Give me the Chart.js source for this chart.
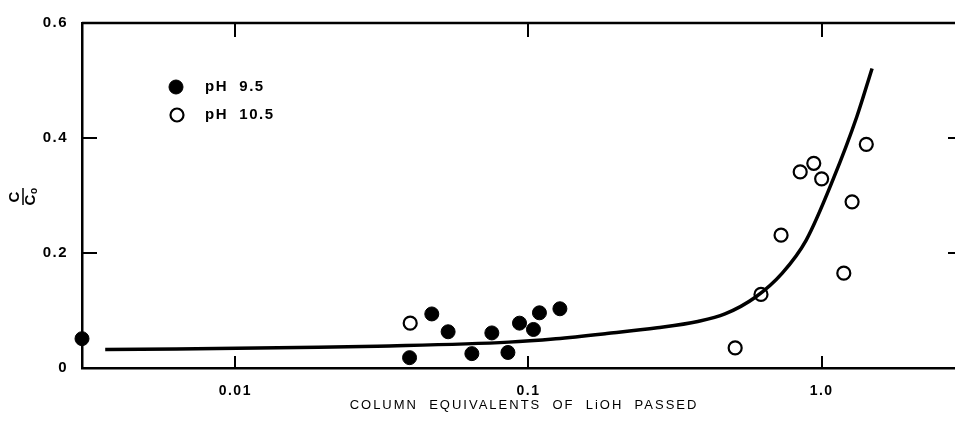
<!DOCTYPE html>
<html>
<head>
<meta charset="utf-8">
<script src="https://cdn.jsdelivr.net/npm/chart.js@4.4.1/dist/chart.umd.min.js"></script>
<style>
  body { margin: 0; background: #fff; }
  #wrap { width: 955px; height: 425px; }
</style>
</head>
<body>
<div id="wrap"><canvas id="cc"></canvas></div>
<script>
// pH 9.5 (filled circles)
const ph95X = [0.003, 0.0393, 0.0468, 0.0532, 0.0641, 0.075, 0.0851, 0.0932, 0.104, 0.109, 0.128];
const ph95Y = [0.051, 0.018, 0.094, 0.063, 0.025, 0.061, 0.027, 0.078, 0.067, 0.096, 0.103];
// pH 10.5 (open circles)
const ph105X = [0.0395, 0.507, 0.621, 0.727, 0.845, 0.94, 1.0, 1.19, 1.27, 1.42];
const ph105Y = [0.078, 0.035, 0.128, 0.231, 0.341, 0.356, 0.329, 0.165, 0.289, 0.389];
// fitted curve
const curveX = [0.0036, 0.0192, 0.0305, 0.0857, 0.124, 0.185, 0.275, 0.378, 0.468, 0.594, 0.734, 0.885, 1.094, 1.318, 1.486];
const curveY = [0.032, 0.036, 0.038, 0.045, 0.051, 0.060, 0.070, 0.081, 0.094, 0.123, 0.165, 0.222, 0.328, 0.437, 0.521];
const xTicks = [0.01, 0.1, 1];
const xTickLabels = ["0.01", "0.1", "1.0"];
const yTicks = [0, 0.2, 0.4, 0.6];
const yTickLabels = ["0", "0.2", "0.4", "0.6"];
const xTitle = "COLUMN  EQUIVALENTS  OF  LiOH  PASSED";

const pts = (xs, ys) => xs.map((x, i) => ({ x: x, y: ys[i] }));
const FONT = "'Liberation Sans', Arial, sans-serif";

// frame top line, inward tick marks, legend, axis titles
const extras = {
  id: "extras",
  beforeDraw(chart) {
    chart.ctx.letterSpacing = "1.5px";
  },
  afterDraw(chart) {
    const c = chart.ctx, a = chart.chartArea;
    const sx = chart.scales.x, sy = chart.scales.y;
    c.save();
    c.strokeStyle = "#000";
    c.lineWidth = 2.5;
    c.beginPath();
    c.moveTo(a.left, a.top);
    c.lineTo(a.right, a.top);
    c.stroke();
    c.lineWidth = 2;
    c.beginPath();
    xTicks.forEach(v => {
      const px = Math.round(sx.getPixelForValue(v));
      c.moveTo(px, a.bottom); c.lineTo(px, a.bottom - 12);
      c.moveTo(px, a.top); c.lineTo(px, a.top + 14);
    });
    [0.2, 0.4].forEach(v => {
      const py = Math.round(sy.getPixelForValue(v));
      c.moveTo(a.left, py); c.lineTo(a.left + 15, py);
      c.moveTo(a.right, py); c.lineTo(a.right - 7, py);
    });
    c.stroke();

    // legend
    const ds = chart.data.datasets;
    const rows = [[ds[1], 176, 87], [ds[2], 177, 115]];
    rows.forEach(([d, cx, cy]) => {
      c.beginPath();
      c.arc(cx, cy, d.pointRadius, 0, Math.PI * 2);
      c.fillStyle = d.pointBackgroundColor;
      c.fill();
      c.lineWidth = d.pointBorderWidth;
      c.strokeStyle = "#000";
      c.stroke();
      c.fillStyle = "#000";
      c.font = "bold 15px " + FONT;
      c.textBaseline = "middle";
      c.textAlign = "left";
      c.fillText(d.label, 205, cy);
    });

    // x title
    c.letterSpacing = "2px";
    c.font = "13px " + FONT;
    c.textAlign = "center";
    c.textBaseline = "middle";
    c.fillText(xTitle, 524, 405);

    // y title C / C0 as a rotated fraction
    c.letterSpacing = "0px";
    c.translate(23, 197);
    c.rotate(-Math.PI / 2);
    c.font = "bold 15px " + FONT;
    c.fillText("C", 0, -8);
    c.lineWidth = 1.5;
    c.beginPath();
    c.moveTo(-8, 0); c.lineTo(9, 0);
    c.stroke();
    c.fillText("C", -3, 8);
    c.font = "bold 10px " + FONT;
    c.fillText("o", 6, 11);
    c.restore();
  }
};

new Chart(document.getElementById("cc"), {
  type: "scatter",
  data: {
    datasets: [
      {
        type: "line",
        label: "curve",
        data: pts(curveX, curveY),
        borderColor: "#000",
        borderWidth: 3.5,
        pointRadius: 0,
        fill: false,
        cubicInterpolationMode: "monotone",
      },
      {
        label: "pH  9.5",
        data: pts(ph95X, ph95Y),
        pointRadius: 7,
        pointBackgroundColor: "#000",
        pointBorderColor: "#000",
        pointBorderWidth: 1,
        clip: false,
      },
      {
        label: "pH  10.5",
        data: pts(ph105X, ph105Y),
        pointRadius: 6.5,
        pointBackgroundColor: "#fff",
        pointBorderColor: "#000",
        pointBorderWidth: 2.2,
        clip: false,
      },
    ],
  },
  options: {
    responsive: true,
    maintainAspectRatio: false,
    animation: false,
    layout: { autoPadding: false, padding: { top: 18, right: 0, left: 0, bottom: 0 } },
    plugins: { legend: { display: false }, tooltip: { enabled: false } },
    scales: {
      x: {
        type: "logarithmic",
        min: 0.003,
        max: 2.85,
        afterBuildTicks: s => { s.ticks = xTicks.map(v => ({ value: v })); },
        afterFit: s => { s.height = 57; },
        ticks: {
          autoSkip: false,
          maxRotation: 0,
          padding: 15,
          color: "#000",
          font: { family: FONT, size: 14, weight: "bold" },
          callback: v => xTickLabels[xTicks.indexOf(v)],
        },
        grid: { display: false, drawTicks: false },
        border: { display: true, color: "#000", width: 2.5 },
      },
      y: {
        min: 0,
        max: 0.6,
        afterBuildTicks: s => { s.ticks = yTicks.map(v => ({ value: v })); },
        afterFit: s => { s.width = 82; },
        ticks: {
          padding: 14,
          color: "#000",
          font: { family: FONT, size: 15, weight: "bold" },
          callback: v => yTickLabels[yTicks.indexOf(v)],
        },
        grid: { display: false, drawTicks: false },
        border: { display: true, color: "#000", width: 2.5 },
      },
    },
  },
  plugins: [extras],
});
</script>
</body>
</html>
